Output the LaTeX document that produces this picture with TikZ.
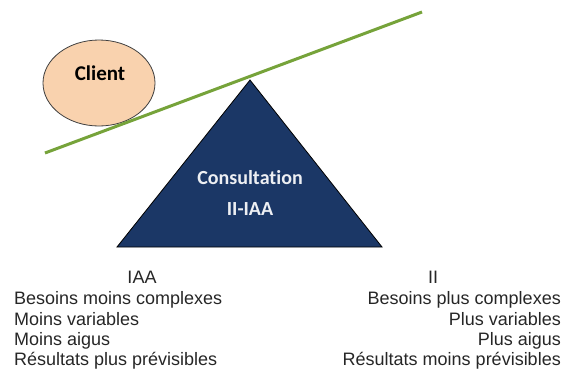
\documentclass[tikz,border=0pt]{standalone}
\usepackage{fontspec}
\setmainfont{Liberation Sans}
\newfontfamily\calibri[Ligatures=NoCommon]{Carlito}
\usepackage{tikz}
\usetikzlibrary{arrows.meta,shapes.geometric}
\definecolor{peach}{HTML}{F9D2AE}
\definecolor{navy}{HTML}{1B3766}
\definecolor{leafgreen}{HTML}{76A33A}
\tikzset{
  lbl/.style={inner sep=0pt, font=\fontsize{18}{20}\selectfont, text=black!85},
}

\begin{document}
\begin{tikzpicture}[x=1pt, y=-1pt]
      \useasboundingbox (0,0) rectangle (572,373);
      \draw [fill=navy, draw=black, line width=0.8pt] (250,80) -- (382,247) -- (117,247) -- cycle;
      \node [font=\calibri\bfseries\fontsize{20}{22}\selectfont, text=white!92!navy] (consult) at (250,178) {Consultation};
      \node [font=\calibri\bfseries\fontsize{20}{22}\selectfont, text=white!92!navy] (iiiaa) at (250,209) {II-IAA};
      \node [ellipse, draw=black!75, fill=peach, line width=0.8pt, minimum width=112pt, minimum height=86pt] (client) at (99,83) {};
      \node [font=\calibri\bfseries\fontsize{21}{23}\selectfont] at (100,73) {Client};
      \coordinate (beamL) at (45,153);
      \coordinate (beamR) at (422,12);
      \draw [leafgreen, line width=3pt] (beamL) -- (beamR);
      % left column
      \node [lbl] (iaa) at (142,277) {IAA};
      \node [lbl, anchor=base west] (l1) at (14,304) {Besoins moins complexes};
      \node [lbl, anchor=base west] (l2) at (14,325) {Moins variables};
      \node [lbl, anchor=base west] (l3) at (14,345) {Moins aigus};
      \node [lbl, anchor=base west] (l4) at (14,365) {Résultats plus prévisibles};
      % right column
      \node [lbl] (ii) at (433,277) {II};
      \node [lbl, anchor=base east] (r1) at (561,304) {Besoins plus complexes};
      \node [lbl, anchor=base east] (r2) at (561,325) {Plus variables};
      \node [lbl, anchor=base east] (r3) at (561,345) {Plus aigus};
      \node [lbl, anchor=base east] (r4) at (561,365) {Résultats moins prévisibles};
\end{tikzpicture}
\end{document}
